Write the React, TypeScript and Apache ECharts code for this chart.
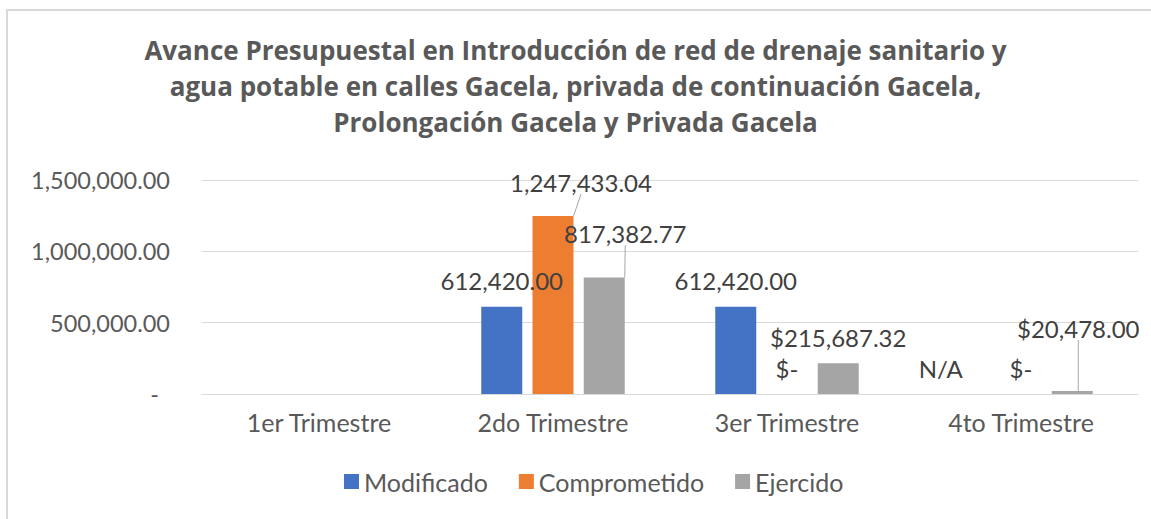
import React, { useEffect, useRef } from "react";
import * as echarts from "echarts";

const titleLines = [
  "Avance Presupuestal en Introducción de red de drenaje sanitario y",
  "agua potable en calles Gacela, privada de continuación Gacela,",
  "Prolongación Gacela y Privada Gacela",
];
const categories = ["1er Trimestre", "2do Trimestre", "3er Trimestre", "4to Trimestre"];
const seriesNames = ["Modificado", "Comprometido", "Ejercido"];
// null = no data; "N/A" = not applicable
const modificado: (number | null | string)[] = [null, 612420, 612420, "N/A"];
const comprometido: (number | null | string)[] = [null, 1247433.04, 0, 0];
const ejercido: (number | null | string)[] = [null, 817382.77, 215687.32, 20478];
// whether the data label is shown in currency format
const modificadoCurrency = [false, false, false, false];
const comprometidoCurrency = [false, false, true, true];
const ejercidoCurrency = [false, false, true, true];
const yTicks = [0, 500000, 1000000, 1500000];

const colors = ["#4472C4", "#ED7D31", "#A5A5A5"];
const FONT = "Lato, 'Open Sans', sans-serif";
const TXT = "#595959";

// label moves (styling only), keyed by "series-index"; third value = draw leader line
const labelMoves: Record<string, [number, number, boolean]> = {
  "1-1": [28, -8, true],
  "2-1": [21, -18, true],
  "2-3": [6, -37, true],
  "0-3": [-29, 0, false],
};

function fmt(v: number, currency: boolean): string {
  if (v === 0 && currency) return "$-";
  const s = v.toLocaleString("en-US", { minimumFractionDigits: 2, maximumFractionDigits: 2 });
  return currency ? "$" + s : s;
}

function buildData(vals: (number | null | string)[], cur: boolean[], si: number) {
  return vals.map((v, i) => {
    if (v === null) return { value: null, label: { show: false } };
    const mv = labelMoves[si + "-" + i];
    const showLine = !!(mv && mv[2]);
    return {
      value: typeof v === "string" ? 0 : v,
      label: { show: true, formatter: typeof v === "string" ? v : fmt(v, cur[i]) },
      labelLine: { show: showLine, lineStyle: { color: "#A6A6A6", width: 1 } },
    };
  });
}

export default function App() {
  const ref = useRef<HTMLDivElement>(null);
  useEffect(() => {
    if (!ref.current) return;
    const chart = echarts.init(ref.current, undefined, { renderer: "svg" });
    const allVals = [modificado, comprometido, ejercido];
    const curs = [modificadoCurrency, comprometidoCurrency, ejercidoCurrency];
    chart.setOption({
      animation: false,
      backgroundColor: "#ffffff",
      color: colors,
      title: {
        text: titleLines.join("\n"),
        left: "center",
        top: 32,
        padding: 0,
        textStyle: {
          fontFamily: "'Open Sans', sans-serif",
          fontWeight: "bold",
          fontSize: 26,
          lineHeight: 36,
          color: TXT,
        },
      },
      graphic: [
        { type: "line", shape: { x1: 6, y1: 10, x2: 1151, y2: 10 }, style: { stroke: "#D9D9D9", lineWidth: 2 } },
        { type: "line", shape: { x1: 7, y1: 9, x2: 7, y2: 519 }, style: { stroke: "#D9D9D9", lineWidth: 2 } },
      ],
      legend: {
        data: seriesNames,
        bottom: 20,
        left: 339,
        itemWidth: 15,
        itemHeight: 15,
        itemGap: 31,
        icon: "rect",
        textStyle: { fontFamily: FONT, fontSize: 25, color: TXT },
      },
      grid: { left: 202, right: 13, top: 180, bottom: 125, containLabel: false },
      xAxis: {
        type: "category",
        data: categories,
        axisTick: { show: false },
        axisLine: { lineStyle: { color: "#D9D9D9", width: 1 } },
        axisLabel: { fontFamily: FONT, fontSize: 25, color: TXT, margin: 15 },
      },
      yAxis: {
        type: "value",
        min: yTicks[0],
        max: yTicks[yTicks.length - 1],
        interval: yTicks[1] - yTicks[0],
        splitLine: { lineStyle: { color: "#D9D9D9", width: 1 } },
        axisLine: { show: false },
        axisTick: { show: false },
        axisLabel: {
          margin: 32,
          formatter: (v: number) =>
            v === 0 ? "{z|-}" : v.toLocaleString("en-US", { minimumFractionDigits: 2 }),
          fontFamily: FONT,
          fontSize: 23.5,
          color: TXT,
          rich: { z: { fontFamily: FONT, fontSize: 23.5, color: TXT, padding: [0, 11, 0, 0] } },
        },
      },
      series: seriesNames.map((name, si) => ({
        name,
        type: "bar",
        barWidth: 41,
        barGap: "25%",
        data: buildData(allVals[si], curs[si], si),
        label: {
          show: true,
          position: "top",
          distance: 14,
          fontFamily: FONT,
          fontSize: 24,
          color: "#404040",
        },
        labelLine: { show: false, lineStyle: { color: "#A6A6A6" } },
        labelLayout: (params: any) => {
          const mv = labelMoves[si + "-" + params.dataIndex];
          return mv ? { dx: mv[0], dy: mv[1] } : {};
        },
      })),
    });
    return () => chart.dispose();
  }, []);
  return (
    <div
      ref={ref}
      style={{ position: "fixed", left: 0, top: 0, width: 1151, height: 519, background: "#fff" }}
    />
  );
}
